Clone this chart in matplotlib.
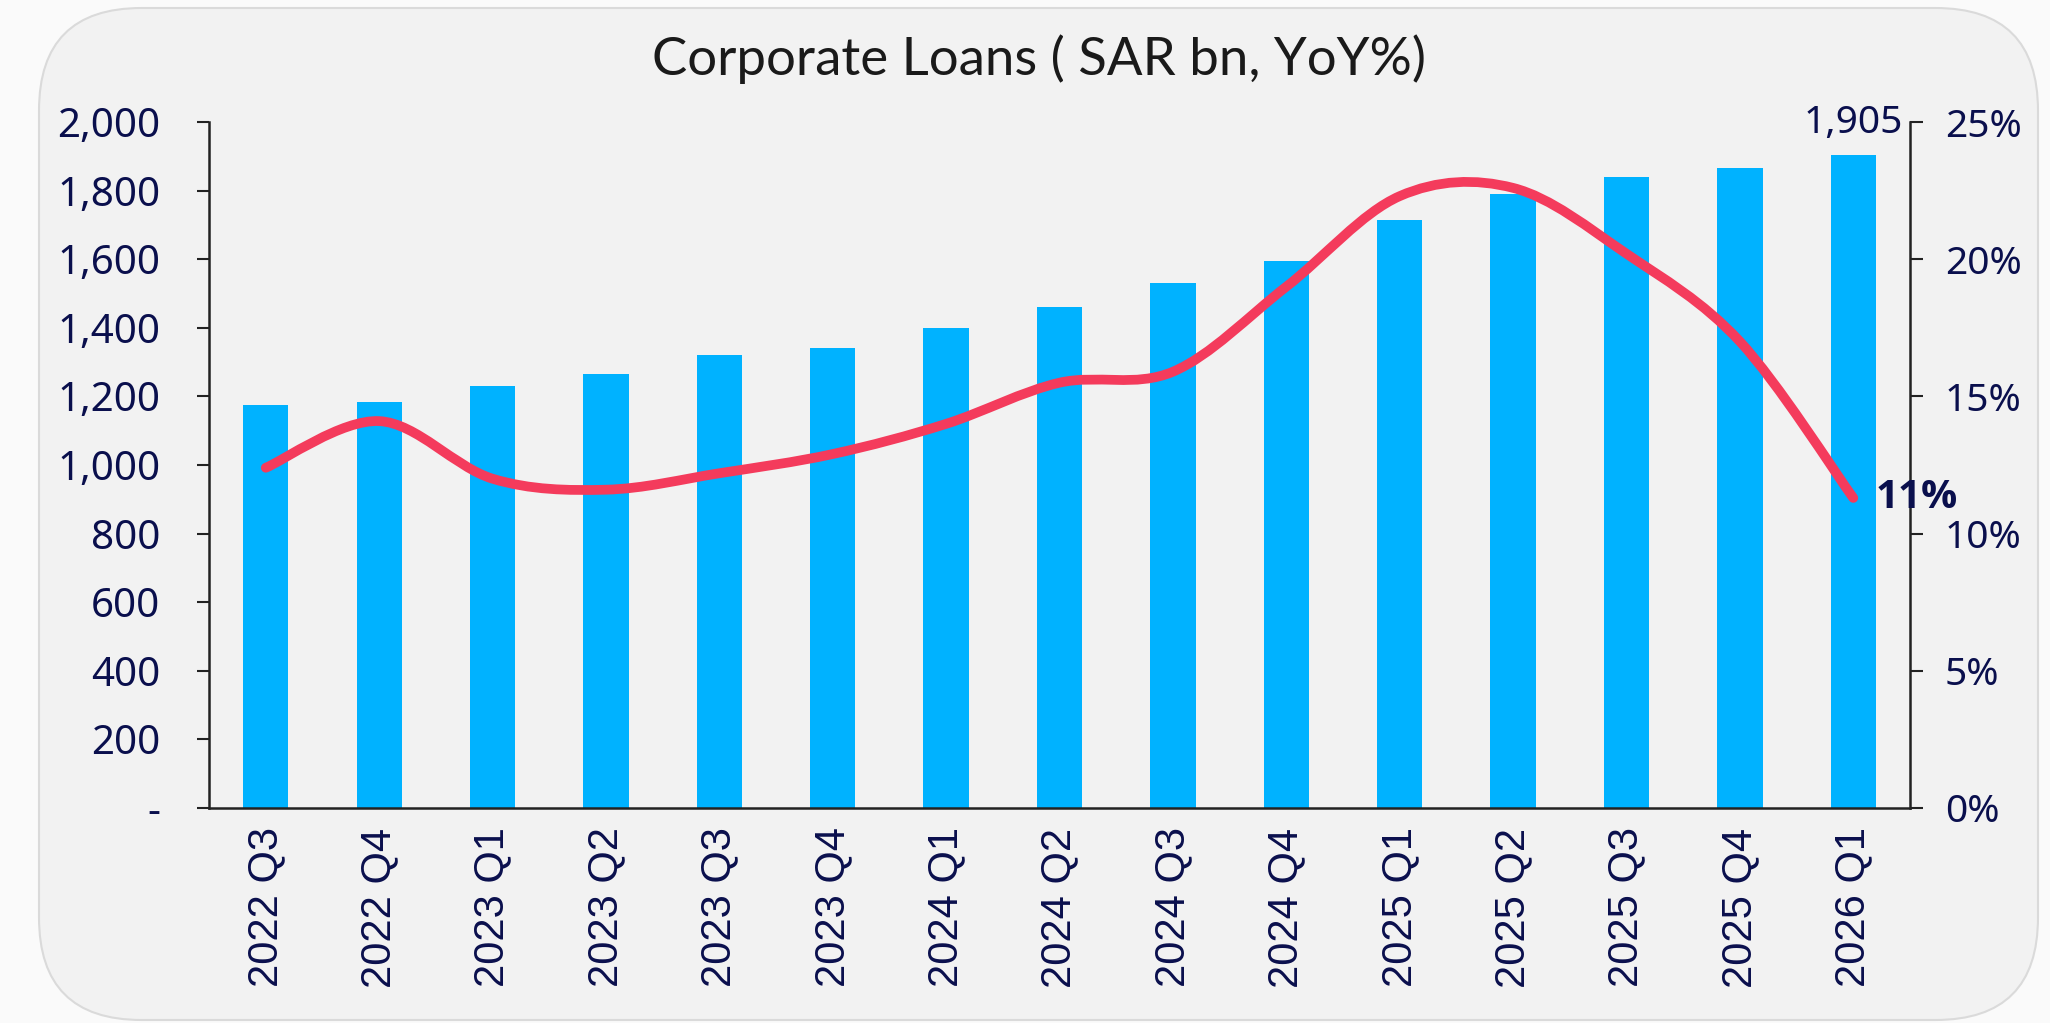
import matplotlib
matplotlib.use("Agg")
import matplotlib.pyplot as plt
from matplotlib.patches import FancyBboxPatch, PathPatch
from matplotlib.path import Path
from matplotlib.ticker import FuncFormatter, MultipleLocator

# quarterly corporate loans (SAR bn) and YoY growth (%)
quarters = ["2022 Q3", "2022 Q4", "2023 Q1", "2023 Q2", "2023 Q3", "2023 Q4",
            "2024 Q1", "2024 Q2", "2024 Q3", "2024 Q4", "2025 Q1", "2025 Q2",
            "2025 Q3", "2025 Q4", "2026 Q1"]
loans = [1175, 1185, 1230, 1265, 1320, 1340, 1400, 1460, 1530, 1595,
         1715, 1790, 1840, 1865, 1905]
yoy = [12.4, 14.1, 12.0, 11.6, 12.2, 12.9, 14.0, 15.5, 15.9, 19.0,
       22.3, 22.6, 20.2, 17.0, 11.3]

navy = "#0A0F4D"
bar_color = "#00B2FF"
line_color = "#F43B5C"

fig = plt.figure(figsize=(20.5, 10.23), dpi=100, facecolor="#FAFAFA")

# rounded panel behind the chart
panel = FancyBboxPatch((39 / 2050, 1 - 1020 / 1023), (2038 - 39) / 2050, (1020 - 8) / 1023,
                       boxstyle="round,pad=0,rounding_size=0.05",
                       transform=fig.transFigure, facecolor="#F2F2F2",
                       edgecolor="#DADADA", linewidth=1.5,
                       mutation_aspect=2050 / 1023, zorder=-10)
fig.patches.append(panel)

ax = fig.add_axes([0.102, 0.2102, 0.9317 - 0.102, 0.8807 - 0.2102])
ax.patch.set_visible(False)
x = list(range(len(quarters)))
ax.bar(x, loans, width=0.4, color=bar_color, zorder=2)
ax.set_xlim(-0.5, len(quarters) - 0.5)
ax.set_ylim(0, 2000)
ax.yaxis.set_major_locator(MultipleLocator(200))
ax.yaxis.set_major_formatter(FuncFormatter(lambda v, p: "-" if v == 0 else f"{v:,.0f}"))
ax.set_xticks(x)
ax.set_xticklabels(quarters, rotation=90, fontsize=30, color=navy,
                   family="Liberation Sans")
ax.tick_params(axis="x", length=0, pad=14)
ax.tick_params(axis="y", length=9, width=1.5, pad=26, labelsize=29,
               labelcolor=navy, color="#222222")
for lab in ax.get_yticklabels():
    lab.set_family("Noto Sans")
ax.spines["top"].set_visible(False)
ax.spines["right"].set_visible(False)
for s in ("left", "bottom"):
    ax.spines[s].set_linewidth(1.8)
    ax.spines[s].set_color("#222222")

ax.annotate(f"{loans[-1]:,}", (x[-1], loans[-1]), xytext=(0, 22),
            textcoords="offset pixels", ha="center", va="baseline",
            fontsize=28, color=navy, family="Noto Sans")

ax2 = ax.twinx()
ax2.set_ylim(0, 25)
ax2.yaxis.set_major_locator(MultipleLocator(5))
ax2.yaxis.set_major_formatter(FuncFormatter(lambda v, p: f"{v:.0f}%"))
ax2.tick_params(axis="y", length=9, width=1.5, pad=16, labelsize=28,
                labelcolor=navy, color="#222222")
for lab in ax2.get_yticklabels():
    lab.set_family("Noto Sans")
ax2.spines["top"].set_visible(False)
ax2.spines["left"].set_visible(False)
ax2.spines["bottom"].set_visible(False)
ax2.spines["right"].set_linewidth(1.8)
ax2.spines["right"].set_color("#222222")

# smoothed line drawn as a Bezier path through the data points
verts = [(x[0], yoy[0])]
codes = [Path.MOVETO]
n = len(yoy)
for i in range(n - 1):
    p0 = (x[max(i - 1, 0)], yoy[max(i - 1, 0)])
    p1 = (x[i], yoy[i])
    p2 = (x[i + 1], yoy[i + 1])
    p3 = (x[min(i + 2, n - 1)], yoy[min(i + 2, n - 1)])
    c1 = (p1[0] + (p2[0] - p0[0]) / 6, p1[1] + (p2[1] - p0[1]) / 6)
    c2 = (p2[0] - (p3[0] - p1[0]) / 6, p2[1] - (p3[1] - p1[1]) / 6)
    verts += [c1, c2, p2]
    codes += [Path.CURVE4] * 3
curve = PathPatch(Path(verts, codes), facecolor="none", edgecolor=line_color,
                  linewidth=7, capstyle="round", joinstyle="round", zorder=3)
ax2.add_patch(curve)

ax2.annotate(f"{yoy[-1]:.0f}%", (x[-1], yoy[-1]), xytext=(22, 0),
             textcoords="offset pixels", ha="left", va="center",
             fontsize=29, fontweight="bold", color=navy, family="Open Sans",
             annotation_clip=False)

fig.text(0.507, 0.942, "Corporate Loans ( SAR bn, YoY%)", ha="center", va="center",
         fontsize=38, color="#1A1A1A", family="Lato")

fig.savefig("out.png", dpi=100, facecolor=fig.get_facecolor())
